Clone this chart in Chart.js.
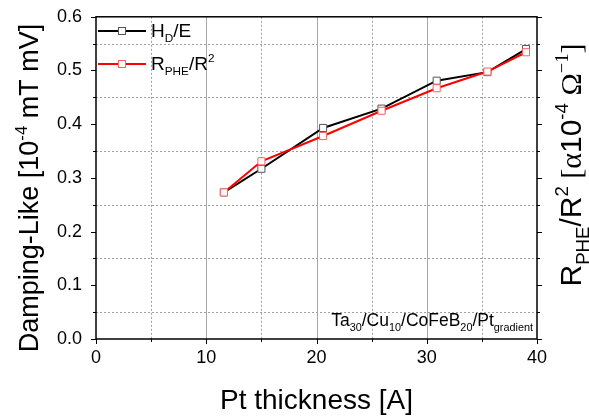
<!DOCTYPE html>
<html>
<head>
<meta charset="utf-8">
<script src="https://cdn.jsdelivr.net/npm/chart.js@4"></script>
<style>
  html, body { margin: 0; padding: 0; background: #fff; }
  #wrap { width: 589px; height: 417px; }
</style>
</head>
<body>
<div id="wrap"><canvas id="ptChart" width="589" height="417"></canvas></div>
<script>
// Pt thickness [A]
var thickness = [11.6, 15.0, 20.6, 25.9, 30.9, 35.5, 39.0];
// H_D/E  (left axis)
var dampingLike = [0.273, 0.317, 0.393, 0.429, 0.481, 0.497, 0.540];
// R_PHE/R^2 (right axis)
var rpheR2 = [0.273, 0.331, 0.378, 0.425, 0.467, 0.498, 0.534];

var xMajor = [0, 10, 20, 30, 40];
var xMinor = [5, 15, 25, 35];
var yMajor = [0, 0.1, 0.2, 0.3, 0.4, 0.5, 0.6];
var yMinor = [0.05, 0.15, 0.25, 0.35, 0.45, 0.55];

var FONT = "'Liberation Sans', Arial, sans-serif";
var SERIF = "'Liberation Serif', 'Times New Roman', serif";

function toPoints(xs, ys) {
    var out = [];
    for (var i = 0; i < xs.length; i++) out.push({x: xs[i], y: ys[i]});
    return out;
}

// draws text made of parts: [text, mode, family]; mode '' | 'sub' | 'sup'
function richText(ctx, parts, x, y, size, align) {
    var widths = [], total = 0;
    parts.forEach(function(p) {
        var s = p[1] ? size * 0.62 : size;
        ctx.font = s + "px " + (p[2] || FONT);
        var w = ctx.measureText(p[0]).width;
        widths.push(w);
        total += w;
    });
    var cx = x;
    if (align == 'center') cx = x - total / 2;
    if (align == 'right') cx = x - total;
    parts.forEach(function(p, i) {
        var s = p[1] ? size * 0.62 : size;
        var dy = p[1] == 'sub' ? size * 0.28 : (p[1] == 'sup' ? -size * 0.42 : 0);
        ctx.font = s + "px " + (p[2] || FONT);
        ctx.fillText(p[0], cx, y + dy);
        cx += widths[i];
    });
}

function square(ctx, x, y, stroke) {
    ctx.fillStyle = '#fff';
    ctx.fillRect(x - 3.5, y - 3.5, 7, 7);
    ctx.strokeStyle = stroke;
    ctx.lineWidth = 1;
    ctx.strokeRect(x - 3.5, y - 3.5, 7, 7);
}

var decor = {
    id: 'decor',
    beforeDatasetsDraw: function(chart) {
        var ctx = chart.ctx, a = chart.chartArea;
        var xs = chart.scales.x, ys = chart.scales.y;
        ctx.save();
        ctx.lineWidth = 1;
        ctx.strokeStyle = '#a0a0a0';
        ctx.setLineDash([2, 2]);
        xMinor.forEach(function(v) {
            var px = Math.round(xs.getPixelForValue(v)) + 0.5;
            ctx.beginPath(); ctx.moveTo(px, a.top); ctx.lineTo(px, a.bottom); ctx.stroke();
        });
        yMinor.forEach(function(v) {
            var py = Math.round(ys.getPixelForValue(v)) + 0.5;
            ctx.beginPath(); ctx.moveTo(a.left, py); ctx.lineTo(a.right, py); ctx.stroke();
        });
        ctx.setLineDash([]);
        ctx.strokeStyle = '#a8a8a8';
        xMajor.slice(1, -1).forEach(function(v) {
            var px = Math.round(xs.getPixelForValue(v)) + 0.5;
            ctx.beginPath(); ctx.moveTo(px, a.top); ctx.lineTo(px, a.bottom); ctx.stroke();
        });
        ctx.restore();
    },
    afterDraw: function(chart) {
        var ctx = chart.ctx, a = chart.chartArea;
        var xs = chart.scales.x, ys = chart.scales.y;
        ctx.save();
        // frame
        ctx.strokeStyle = '#000';
        ctx.lineWidth = 1.5;
        ctx.strokeRect(a.left, a.top, a.right - a.left, a.bottom - a.top);

        // tick marks
        ctx.lineWidth = 1;
        ctx.beginPath();
        xMajor.forEach(function(v) {
            var px = Math.round(xs.getPixelForValue(v)) + 0.5;
            ctx.moveTo(px, a.bottom); ctx.lineTo(px, a.bottom + 5);
        });
        xMinor.forEach(function(v) {
            var px = Math.round(xs.getPixelForValue(v)) + 0.5;
            ctx.moveTo(px, a.bottom); ctx.lineTo(px, a.bottom + 3);
        });
        yMajor.forEach(function(v) {
            var py = Math.round(ys.getPixelForValue(v)) + 0.5;
            ctx.moveTo(a.left - 5, py); ctx.lineTo(a.left, py);
            ctx.moveTo(a.right, py); ctx.lineTo(a.right + 5, py);
        });
        yMinor.forEach(function(v) {
            var py = Math.round(ys.getPixelForValue(v)) + 0.5;
            ctx.moveTo(a.left - 3, py); ctx.lineTo(a.left, py);
            ctx.moveTo(a.right, py); ctx.lineTo(a.right + 3, py);
        });
        ctx.stroke();

        ctx.fillStyle = '#000';
        ctx.textBaseline = 'alphabetic';

        // legend
        var rows = [
            {y: 31, color: '#000', mark: '#555', parts: [['H'], ['D', 'sub'], ['/E']]},
            {y: 64, color: '#ff0000', mark: '#ff6060', parts: [['R'], ['PHE', 'sub'], ['/R'], ['2', 'sup']]}
        ];
        rows.forEach(function(r) {
            ctx.strokeStyle = r.color;
            ctx.lineWidth = 2;
            ctx.beginPath(); ctx.moveTo(a.left + 2, r.y); ctx.lineTo(a.left + 50, r.y); ctx.stroke();
            square(ctx, a.left + 26, r.y, r.mark);
            ctx.fillStyle = '#000';
            richText(ctx, r.parts, a.left + 55, r.y + 6, 19, 'left');
        });

        // sample annotation
        richText(ctx, [['Ta'], ['30', 'sub'], ['/Cu'], ['10', 'sub'], ['/CoFeB'], ['20', 'sub'], ['/Pt'], ['gradient', 'sub']],
            a.right - 4, a.bottom - 13, 17.5, 'right');

        // x title
        richText(ctx, [['Pt thickness [A]']], (a.left + a.right) / 2, 409, 28, 'center');

        // left title
        ctx.save();
        ctx.translate(38, 188);
        ctx.rotate(-Math.PI / 2);
        richText(ctx, [['Damping-Like [10'], ['-4', 'sup'], [' mT mV]']], 0, 0, 27, 'center');
        ctx.restore();

        // right title
        ctx.save();
        ctx.translate(581, 165);
        ctx.rotate(-Math.PI / 2);
        richText(ctx, [['R'], ['PHE', 'sub'], ['/R'], ['2', 'sup'], [' [', '', SERIF], ['\u03b1', '', SERIF], ['10'],
            ['-4', 'sup'], [' \u03a9', '', SERIF], ['\u22121', 'sup', SERIF], [']', '', SERIF]], 0, 0, 30, 'center');
        ctx.restore();

        ctx.restore();
    }
};

var ctx = document.getElementById('ptChart').getContext('2d');
var chart = new Chart(ctx, {
    type: 'line',
    plugins: [decor],
    data: {
        datasets: [{
            label: 'RPHE/R2',
            data: toPoints(thickness, rpheR2),
            yAxisID: 'y2',
            borderColor: '#ff0000',
            borderWidth: 2,
            pointStyle: 'rect',
            pointRadius: 5,
            pointBorderWidth: 1,
            pointBorderColor: '#ff6060',
            pointBackgroundColor: '#fff',
            tension: 0,
            order: 0
        }, {
            label: 'HD/E',
            data: toPoints(thickness, dampingLike),
            yAxisID: 'y',
            borderColor: '#000',
            borderWidth: 2,
            pointStyle: 'rect',
            pointRadius: 5,
            pointBorderWidth: 1,
            pointBorderColor: '#555',
            pointBackgroundColor: '#fff',
            tension: 0,
            order: 1
        }]
    },
    options: {
        responsive: false,
        animation: false,
        layout: { padding: { top: 15, left: 0, right: 0, bottom: 0 } },
        plugins: { legend: { display: false }, tooltip: { enabled: false } },
        scales: {
            x: {
                type: 'linear', min: 0, max: 40,
                grid: { display: false }, border: { display: false },
                ticks: { stepSize: 10, color: '#000', padding: 0, font: { family: FONT, size: 18 } },
                afterFit: function(s) { s.height = 78; }
            },
            y: {
                min: 0, max: 0.6,
                grid: { display: false }, border: { display: false },
                ticks: { stepSize: 0.1, color: '#000', padding: 6, font: { family: FONT, size: 18 },
                    callback: function(v) { return v.toFixed(1); } },
                afterFit: function(s) { s.width = 96; }
            },
            y2: {
                position: 'right', min: 0, max: 0.6,
                grid: { display: false }, border: { display: false },
                ticks: { display: false },
                afterFit: function(s) { s.width = 52; }
            }
        }
    }
});
</script>
</body>
</html>
